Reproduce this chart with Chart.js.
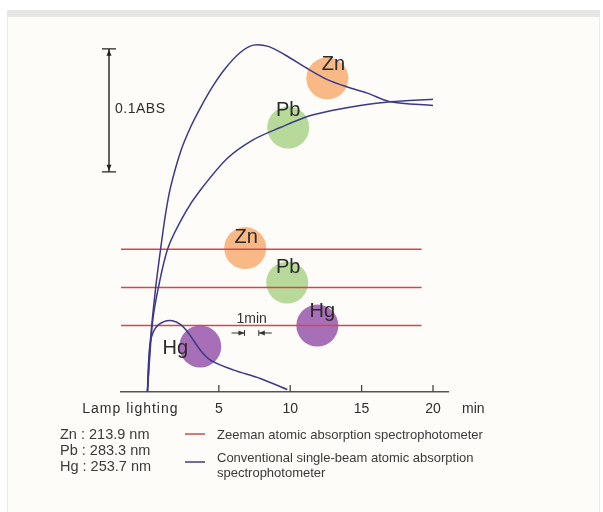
<!DOCTYPE html>
<html>
<head>
<meta charset="utf-8">
<script src="https://cdn.jsdelivr.net/npm/chart.js@4.4.1/dist/chart.umd.min.js"></script>
<style>
  html, body { margin: 0; padding: 0; background: #fff; }
  canvas { display: block; }
</style>
</head>
<body>
<canvas id="myChart" width="603" height="512"></canvas>
<script>
// time after lamp lighting (min) / absorbance (ABS)
var znTime = [0, 0.21, 0.56, 0.91, 1.26, 1.61, 2.31, 3.01, 3.71, 4.55, 5.45, 6.5, 7.41, 8.46, 9.65, 11.2, 12.6, 14.0, 15.4, 17.0, 20.0];
var znAbs  = [0, 0.042, 0.083, 0.115, 0.144, 0.166, 0.195, 0.215, 0.231, 0.248, 0.263, 0.276, 0.282, 0.281, 0.274, 0.263, 0.254, 0.248, 0.243, 0.236, 0.233];

var pbTime = [0, 0.35, 0.77, 1.47, 2.66, 3.7, 5.6, 7.4, 9.3, 11.2, 13.0, 14.9, 17.0, 20.0];
var pbAbs  = [0, 0.056, 0.085, 0.118, 0.146, 0.164, 0.190, 0.205, 0.215, 0.224, 0.229, 0.233, 0.236, 0.238];

var hgTime = [0, 0.07, 0.21, 0.56, 1.12, 1.75, 2.31, 2.87, 3.71, 4.41, 6.0, 7.9, 9.8];
var hgAbs  = [0, 0.022, 0.041, 0.052, 0.057, 0.058, 0.055, 0.048, 0.034, 0.026, 0.018, 0.011, 0.002];

// Zeeman instrument: flat signal from lamp lighting on (Zn, Pb, Hg)
var zeemanLevels = [0.116, 0.085, 0.054];
var zeemanSpan = [-1.85, 19.2];

// element markers
var markerNames = ['Zn', 'Pb', 'Zn', 'Pb', 'Hg', 'Hg'];
var markerTime  = [12.6, 9.86, 6.85, 9.79, 11.9, 3.7];
var markerAbs   = [0.255, 0.215, 0.117, 0.089, 0.054, 0.037];

var tickValues = [0, 5, 10, 15, 20];
var tickLabels = ['Lamp lighting', '5', '10', '15', '20'];

var wavelengths = ['Zn : 213.9 nm', 'Pb : 283.3 nm', 'Hg : 253.7 nm'];

var navy = '#3c3a88';
var red = '#d4474a';
var elementColors = {Zn: 'rgba(248,168,105,0.8)', Pb: 'rgba(165,208,130,0.8)', Hg: 'rgba(145,75,168,0.8)'};
var labelOffsets = [[6, -14], [0, -17], [1, -11], [1, -15], [5, -14], [-25, 2]];
var FONT = '"Liberation Sans", Arial, sans-serif';

function pts(xs, ys) {
    return xs.map(function(x, i) { return {x: x, y: ys[i]}; });
}

function curve(xs, ys) {
    return {
        data: pts(xs, ys), showLine: true, borderColor: navy, borderWidth: 1.5,
        pointRadius: 0, tension: 0.3, order: 1
    };
}

var datasets = [curve(znTime, znAbs), curve(pbTime, pbAbs), curve(hgTime, hgAbs)];

zeemanLevels.forEach(function(v) {
    datasets.push({
        data: pts(zeemanSpan, [v, v]), showLine: true, borderColor: red, borderWidth: 1.5,
        pointRadius: 0, order: 2
    });
});

datasets.push({
    data: pts(markerTime, markerAbs),
    pointRadius: 21, pointHoverRadius: 21, borderWidth: 0,
    backgroundColor: markerNames.map(function(n) { return elementColors[n]; }),
    order: 10
});

// background panel with grey strip on top
const panel = {
    id: 'panel',
    beforeDraw(chart) {
        var c = chart.ctx;
        c.save();
        c.fillStyle = '#ffffff';
        c.fillRect(0, 0, chart.width, chart.height);
        c.fillStyle = '#fdfcf8';
        c.fillRect(7, 10, 593, chart.height - 10);
        c.fillStyle = '#e6e6e4';
        c.fillRect(7, 10, 593, 7);
        c.strokeStyle = '#ecebe7';
        c.lineWidth = 1;
        c.beginPath();
        c.moveTo(7.5, 17); c.lineTo(7.5, chart.height);
        c.moveTo(599.5, 17); c.lineTo(599.5, chart.height);
        c.stroke();
        c.restore();
    }
};

function arrowHead(c, x, y, dx, dy) {
    c.beginPath();
    c.moveTo(x, y);
    c.lineTo(x + dx * 6 - dy * 2.5, y + dy * 6 - dx * 2.5);
    c.lineTo(x + dx * 6 + dy * 2.5, y + dy * 6 + dx * 2.5);
    c.closePath();
    c.fill();
}

const annotations = {
    id: 'annotations',
    afterDraw(chart) {
        var c = chart.ctx;
        var xs = chart.scales.x, ys = chart.scales.y;
        var base = ys.getPixelForValue(0);
        c.save();
        c.fillStyle = '#2e2e2e';
        c.strokeStyle = '#444';

        // tick marks and labels
        c.lineWidth = 1.3;
        c.font = '14px ' + FONT;
        c.textBaseline = 'middle';
        c.textAlign = 'center';
        tickValues.forEach(function(v, i) {
            var px = xs.getPixelForValue(v);
            if (i > 0) {
                c.beginPath();
                c.moveTo(px, base);
                c.lineTo(px, base - 7);
                c.stroke();
            }
            c.letterSpacing = i === 0 ? '1px' : '0px';
            c.fillText(tickLabels[i], i === 0 ? px - 17 : px, base + 17);
        });
        c.letterSpacing = '0px';
        c.textAlign = 'left';
        c.fillText('min', xs.getPixelForValue(20) + 29, base + 17);

        // 0.1 ABS scale bar
        var bx = 109;
        var top = ys.getPixelForValue(0.279), bot = ys.getPixelForValue(0.179);
        c.strokeStyle = '#222';
        c.fillStyle = '#222';
        c.lineWidth = 1.4;
        c.beginPath();
        c.moveTo(bx, top); c.lineTo(bx, bot);
        c.moveTo(bx - 7, top); c.lineTo(bx + 7, top);
        c.moveTo(bx - 7, bot); c.lineTo(bx + 7, bot);
        c.stroke();
        arrowHead(c, bx, top + 1, 0, 1);
        arrowHead(c, bx, bot - 1, 0, -1);
        c.fillStyle = '#2e2e2e';
        c.font = '14px ' + FONT;
        c.letterSpacing = '0.5px';
        c.fillText('0.1ABS', bx + 6, (top + bot) / 2 - 1);
        c.letterSpacing = '0px';

        // 1 min marker
        var m1 = xs.getPixelForValue(6.8), m2 = xs.getPixelForValue(7.8);
        var my = 333;
        c.strokeStyle = '#333';
        c.fillStyle = '#333';
        c.lineWidth = 1;
        c.beginPath();
        c.moveTo(m1, my - 3); c.lineTo(m1, my + 3);
        c.moveTo(m2, my - 3); c.lineTo(m2, my + 3);
        c.moveTo(m1 - 13, my); c.lineTo(m1, my);
        c.moveTo(m2, my); c.lineTo(m2 + 13, my);
        c.stroke();
        arrowHead(c, m1, my, -1, 0);
        arrowHead(c, m2, my, 1, 0);
        c.textAlign = 'center';
        c.font = '14px ' + FONT;
        c.fillText('1min', (m1 + m2) / 2, 319);

        // element labels on markers
        c.fillStyle = '#2a2a2a';
        c.font = '20px ' + FONT;
        markerNames.forEach(function(n, i) {
            var px = xs.getPixelForValue(markerTime[i]) + labelOffsets[i][0];
            var py = ys.getPixelForValue(markerAbs[i]) + labelOffsets[i][1];
            c.fillText(n, px, py);
        });

        // wavelengths and line key
        c.textAlign = 'left';
        c.fillStyle = '#3a3a3a';
        c.font = '14.5px ' + FONT;
        wavelengths.forEach(function(t, i) {
            c.fillText(t, 60, 435 + i * 16);
        });
        c.lineWidth = 1.5;
        c.strokeStyle = red;
        c.beginPath(); c.moveTo(185, 434); c.lineTo(205, 434); c.stroke();
        c.strokeStyle = navy;
        c.beginPath(); c.moveTo(185, 462); c.lineTo(205, 462); c.stroke();
        c.font = '13px ' + FONT;
        c.fillText('Zeeman atomic absorption spectrophotometer', 217, 435);
        c.fillText('Conventional single-beam atomic absorption', 217, 458);
        c.fillText('spectrophotometer', 217, 473);
        c.restore();
    }
};

var ctx = document.getElementById('myChart');

const chart = new Chart(ctx, {
    type: 'scatter',
    data: {datasets: datasets},
    options: {
        responsive: false,
        animation: false,
        events: [],
        layout: {padding: {left: 121, right: 155, top: 23, bottom: 120}},
        plugins: {legend: {display: false}, tooltip: {enabled: false}},
        scales: {
            x: {
                type: 'linear', min: -1.85, max: 21.05,
                afterBuildTicks: function(scale) { scale.ticks = tickValues.map(function(v) { return {value: v}; }); },
                grid: {display: false, drawTicks: false},
                ticks: {display: false},
                border: {display: true, color: '#555', width: 1.5}
            },
            y: {type: 'linear', min: 0, max: 0.3, display: false}
        }
    },
    plugins: [panel, annotations]
});
</script>
</body>
</html>
